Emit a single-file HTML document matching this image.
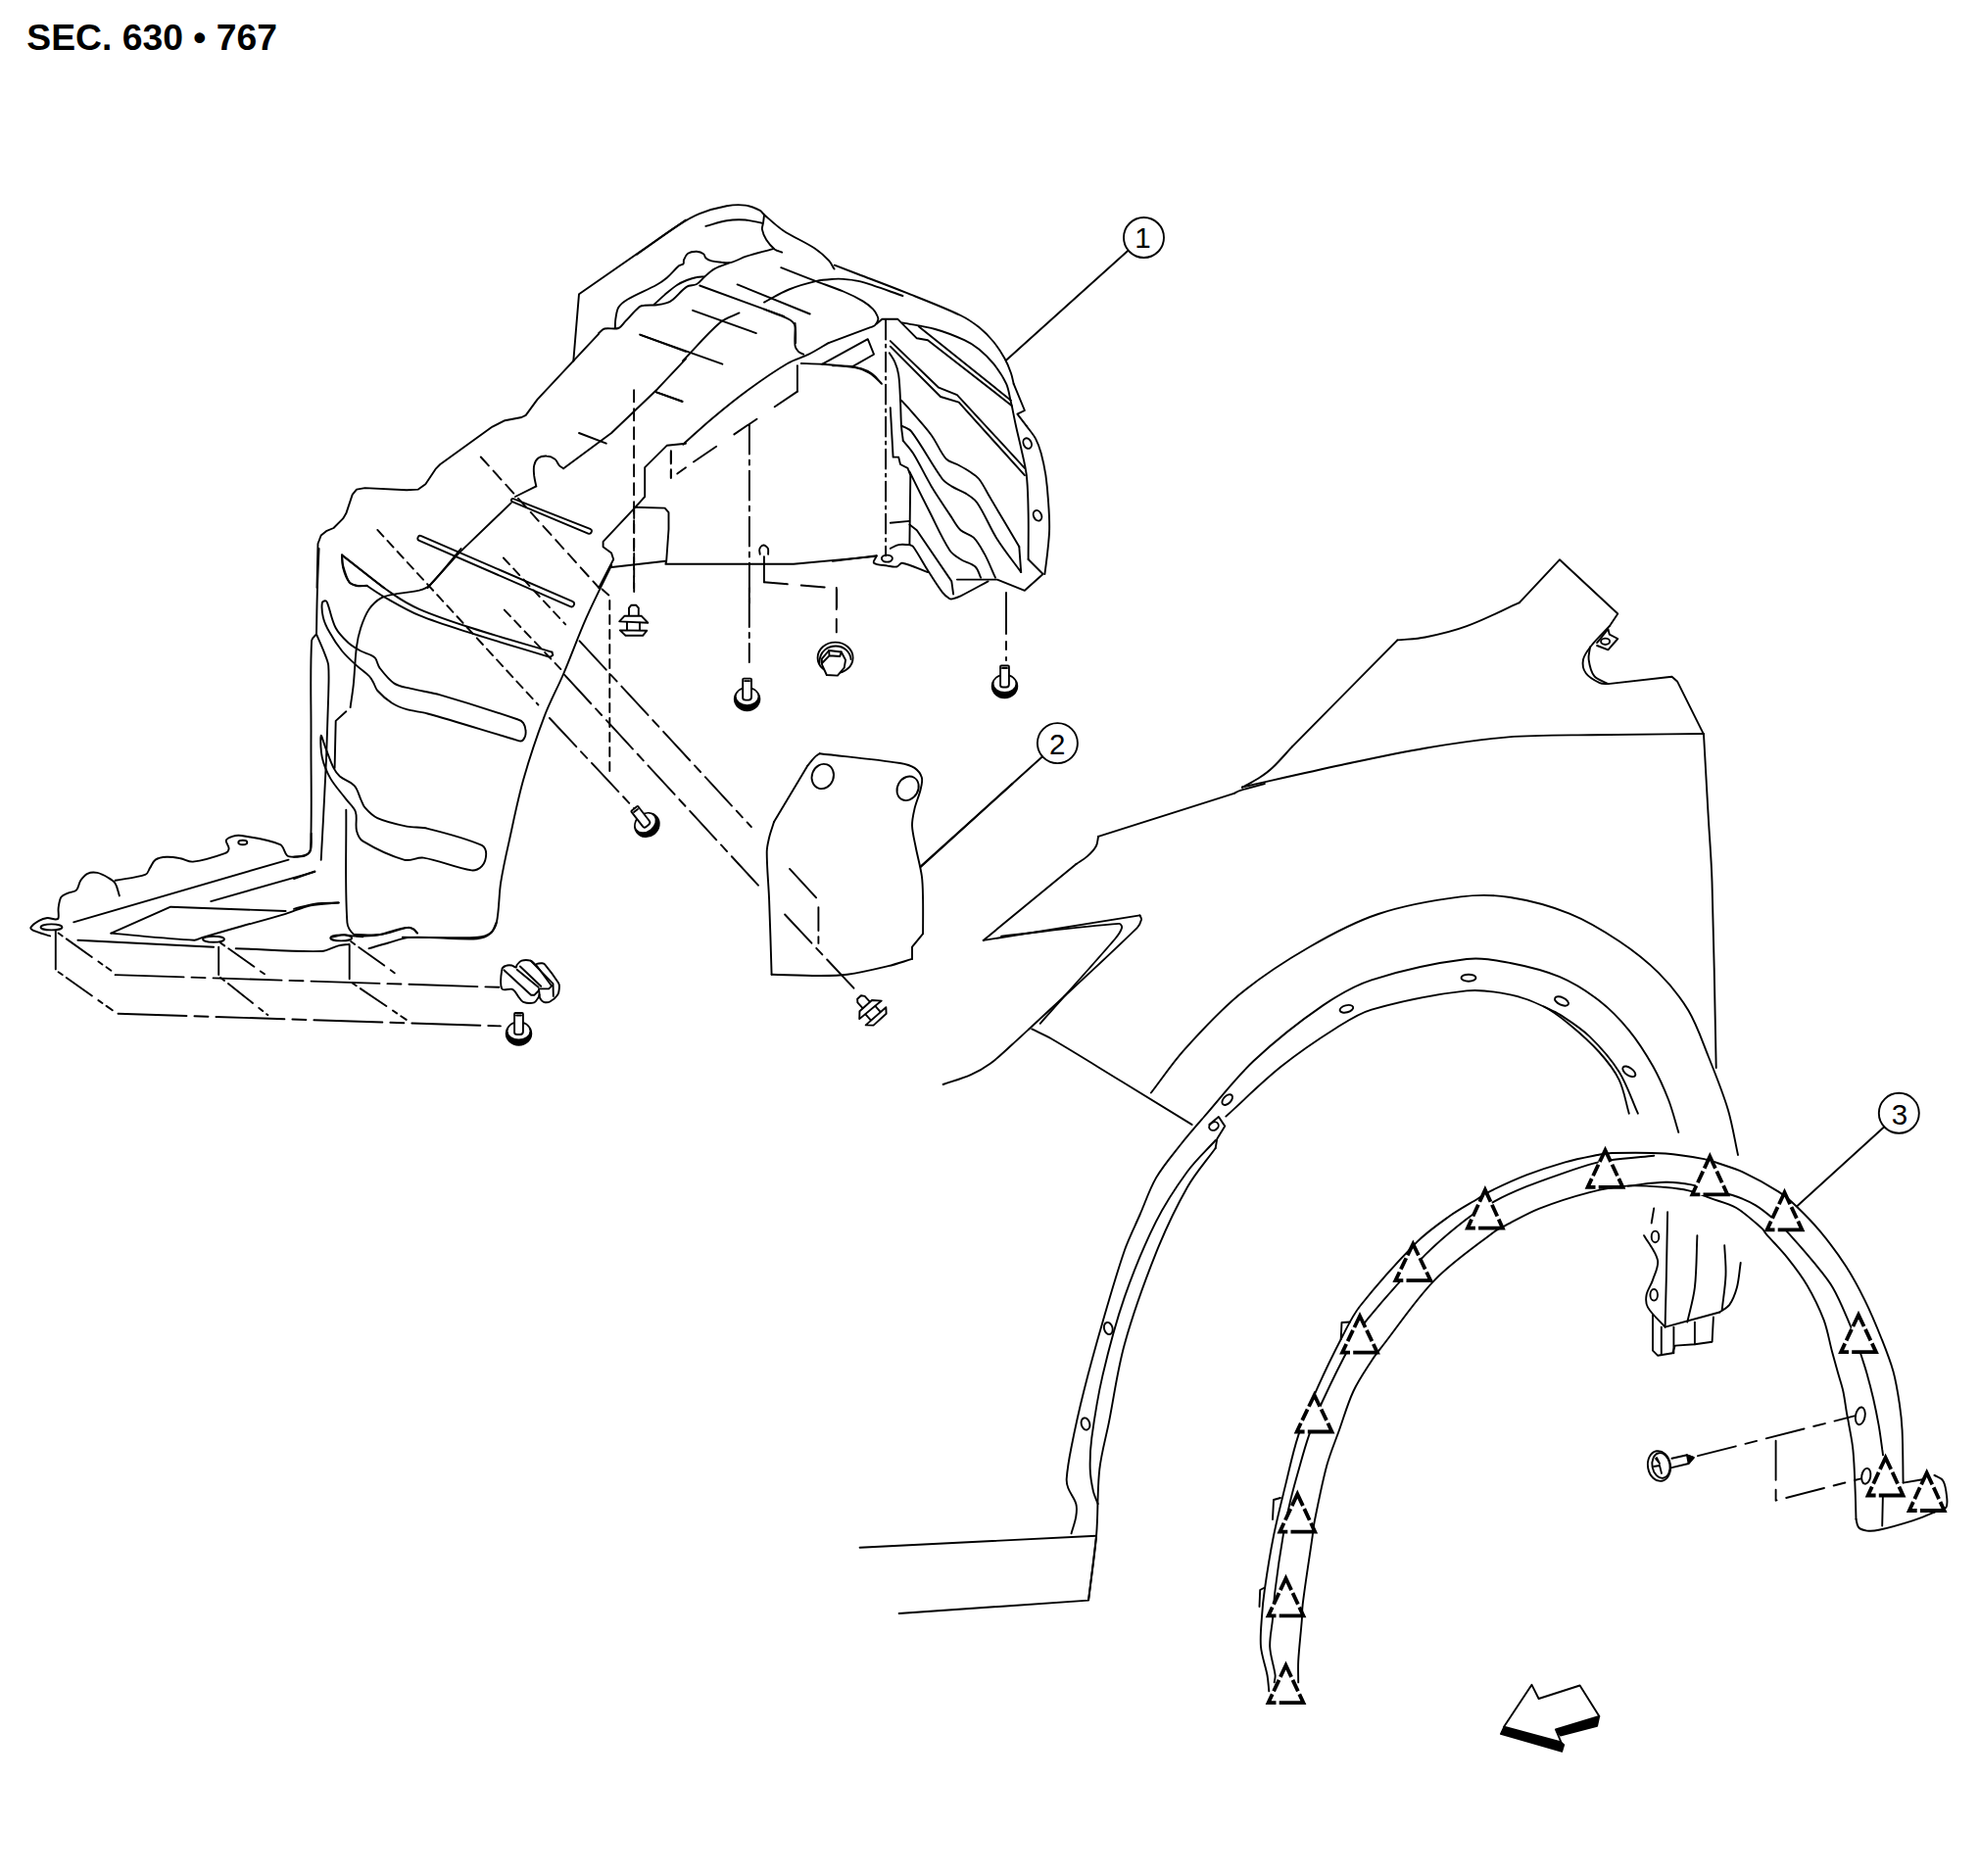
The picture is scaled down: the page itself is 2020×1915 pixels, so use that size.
<!DOCTYPE html>
<html><head><meta charset="utf-8"><style>
html,body{margin:0;padding:0;background:#fff;}
body{width:2020px;height:1915px;position:relative;overflow:hidden;}
.t{position:absolute;left:27.3px;top:17.2px;font-family:"Liberation Sans",sans-serif;font-weight:bold;font-size:37.3px;color:#000;white-space:nowrap;letter-spacing:0px;}
svg{position:absolute;left:0;top:0;}
</style></head><body>
<div class="t">SEC. 630 &#8226; 767</div>
<svg width="2020" height="1915" viewBox="0 0 2020 1915" fill="none" stroke="#000" stroke-width="1.9" stroke-linejoin="round" stroke-linecap="round">
<path d="M428.0 551.9 L582.1 619.1 A2.8 2.8 0 0 0 584.3 613.9 L430.0 547.1 A2.6 2.6 0 0 0 428.0 551.9 Z"/>
<path d="M522.9 512.2 L600.3 544.6 A2.6 2.6 0 0 0 602.3 539.8 L524.1 509.2 A1.6 1.6 0 0 0 522.9 512.2 Z"/>
<path d="M585.3 368.4 L548.4 407.9 L536.7 423.9 L532.4 426 L515.4 429.2 L502.6 435.6 L449.3 474 L445 478.3 L434.3 494.2 L426.9 499.6 L415.1 500.2 L372.5 498.1 L364 499.6 L359.7 504.9 L353.3 524.1 L350.1 529.4 L340.5 539 L333 542.2 L327.7 546.5 L324.5 555 L323.5 600"/>
<path d="M700 224.5 L591 300.2 L585.3 368.4"/>
<path d="M700 366.3 L671 397.2 L624.1 442 L575.1 478.3"/>
<path d="M575.1 478.3 C573.6 477.2 572 476.4 570.8 475.1 C569.1 473.2 568.5 470.1 566.5 468.7 C564.2 466.9 560.9 465.6 558 465.5 C555.2 465.3 551.6 466 549.5 467.6 C547.4 469.2 545.8 472.4 545.2 475.1 C544.4 478.4 544.9 482.2 545.2 485.7 C545.6 489.3 546.6 492.8 547.3 496.4"/>
<path d="M547.3 496.4 L526 507"/>
<path d="M521.7 513.4 L468.4 564.6 L436.5 600"/>
<path d="M700 452.7 L680.6 454.8 L658.2 477.2 L658.2 507 L647.5 518.8 L615.6 552.9 L615.6 558.2 L624.1 564.6 L626.2 571 L611.3 600"/>
<path d="M647.1 398.3 L647.1 600" stroke-dasharray="12 7"/>
<path d="M684.9 460.1 L684.9 487.8" stroke-dasharray="12 7"/>
<path d="M691.3 483.6 L700 477.2"/>
<path d="M653.9 341.8 L700 358.8"/>
<path d="M669.9 400.4 L696.6 410"/>
<path d="M591 442 L618.8 452.7"/>
<path d="M490.8 466.5 L611.3 600" stroke-dasharray="12 7"/>
<path d="M349 566.7 L391.7 600"/>
<path d="M349 566.7 C349.4 571 349 575.5 350.1 579.5 C351.5 584.7 353.4 590.4 356.5 594.5 C358 596.5 361.4 597.2 364 597.7 C367.4 598.3 371.1 597.7 374.6 597.7"/>
<path d="M627.8 335 C628 332 627.8 328.9 628.3 325.9 C629 321.8 629.3 317.2 631.3 313.8 C633.3 310.5 637 307.7 640.4 305.7 C650.1 300 660.9 296 670.7 290.5 C674.3 288.6 677.7 286.1 680.8 283.5 C685.2 279.7 688.7 275 693 271.3 C694.2 270.3 696.6 270.4 697.5 269.3 C698.3 268.4 697.5 266.5 698 265.3 C699 263 700.1 260 702.1 258.7 C704.5 257.1 708.2 256.6 711.2 256.7 C713.6 256.8 716.3 257.8 718.2 259.2 C719.4 260 719.2 262.3 720.3 263.2 C721.9 264.7 724.2 265.7 726.3 266.3 C729.6 267.2 733 267.5 736.4 267.8 C739.8 268 743.3 268.6 746.5 267.8 C751.7 266.5 756.5 263.4 761.7 261.7 C770.7 258.8 779.9 256.7 789 254.1"/>
<path d="M611.1 340.1 C613.1 338.5 614.8 336.1 617.2 335.5 C621.6 334.4 627.2 336.5 631.3 335 C634.3 334 636.1 330.3 638.4 327.9 C643.1 323.1 647.5 317.6 652.6 313.3 C653.9 312.2 655.9 311.9 657.6 311.8 C661.9 311.3 666.4 311.7 670.7 311.2 C674.1 310.9 677.6 310.3 680.8 309.2 C683 308.5 685.1 307.2 686.9 305.7 C691.9 301.6 695.8 295.9 701.1 292.6 C703.9 290.7 708.2 291.7 711.2 290 C714.3 288.3 716.5 284.9 719.3 282.4 C722.5 279.6 725.6 276.4 729.4 274.4 C734.1 271.7 739.5 270.3 744.5 268.3"/>
<path d="M667.7 310.7 C671.4 307.4 675 303.9 678.8 300.6 C682.8 297.3 686.7 293.9 691 291 C694.1 289 697.6 287.4 701.1 286 C704.3 284.7 707.7 283.6 711.2 283 C713.8 282.4 716.6 282.6 719.3 282.4"/>
<path d="M714.2 291.5 L800 322.9"/>
<path d="M752.6 290.4 L826.7 320.5"/>
<path d="M707.1 316.8 L771.8 340.1"/>
<path d="M585.3 368.4 L611.3 340.7"/>
<path d="M650 259.7 C664.2 249.8 678.1 239.3 692.6 229.9 C699.4 225.4 706.5 221.1 714 218.1 C722.8 214.6 732.3 211.9 741.7 210.2 C747.9 209.1 754.6 208.7 760.9 209.6 C766 210.3 771.2 212.6 775.8 214.9 C777.6 215.8 778.5 217.9 780.1 219.2 C786.4 224.6 792.4 230.6 799.3 235.2 C809.4 242 821 246.6 831.2 253.3 C836.7 256.9 841.7 261.4 846.2 266.1 C848.4 268.5 849.7 271.8 851.5 274.6"/>
<path d="M720.4 230.9 C727.5 229 734.5 226.3 741.7 225.2 C748 224.2 754.5 224.1 760.9 224.5 C766.6 224.9 772.2 226.7 777.9 227.7"/>
<path d="M780.1 219.2 C779.7 222 779.4 224.9 779 227.7 C778.7 229.9 777.5 232.1 777.9 234.1 C778.6 237.7 780.2 241.6 782.2 244.8 C784.4 248.3 787.5 251.8 790.7 254.4 C792.8 256 795.7 256.5 798.2 257.6"/>
<path d="M696.9 368.4 C709.7 355.3 721.5 340.8 735.3 329 C740.7 324.4 748.1 322.6 754.5 319.4"/>
<path d="M851.8 270.7 C859.9 273.8 868 276.9 876.1 280 C892.3 286.2 908.5 292.2 924.6 298.7 C943.4 306.2 962.4 313.4 980.6 322 C987.3 325.2 993.5 329.5 999.3 334.1 C1004.7 338.5 1009.8 343.6 1014.2 349 C1018.5 354.2 1022.1 359.9 1025.4 365.8 C1028 370.5 1030.1 375.6 1031.9 380.7 C1033.2 384.3 1033.8 388.2 1034.7 392"/>
<path d="M797.2 273.2 C809.3 278 821.4 282.8 833.6 287.4 C842.6 290.8 851.9 293.7 860.8 297.5 C867.8 300.4 874.6 303.7 881.1 307.6 C884.7 309.8 888.2 312.6 891.2 315.7 C893.1 317.7 894.6 320.3 895.7 322.8 C896.3 324 896.6 325.6 896.2 326.8 C895.7 328.6 894.5 330.5 893.2 331.9 C892.2 332.9 890.6 333.3 889.1 333.9 C874.7 339.4 860.2 344.7 845.7 350.1"/>
<path d="M780 308.6 C788.4 304.2 796.5 299 805.3 295.5 C814.4 291.8 824 289.1 833.6 286.9 C839.2 285.6 845 285.3 850.7 284.9 C854.1 284.6 857.5 284.6 860.8 284.9 C865.9 285.3 871 285.8 876 286.9 C881.1 288 886.2 289.8 891.2 291.4 C901.3 294.8 911.4 298.5 921.5 302"/>
<path d="M780 315.7 C787.7 318.7 795.7 321.4 803.2 324.8 C805.5 325.8 807.7 327.1 809.3 328.8 C810.6 330.2 811.6 332 811.8 333.9 C812.5 339.1 812 344.7 812.1 350.1"/>
<path d="M1034.7 391.9 L1045.9 419 L1038.4 422.7 L1047.8 434.9"/>
<path d="M1047.8 434.9 C1050.9 439.2 1054.6 443.2 1057.1 447.9 C1059.6 452.6 1061.3 457.7 1062.7 462.8 C1064.7 470.2 1066.2 477.7 1067.4 485.2 C1068.7 494.5 1069.5 503.9 1070.1 513.2 C1070.8 522.5 1071.3 531.9 1071.1 541.2 C1070.9 548.7 1070 556.1 1069.2 563.6 C1068.4 571.1 1067.4 578.5 1066.4 586"/>
<path d="M894.8 330.4 L900.4 325.7 L916.2 325.7 L935.8 345.3 L947 347.2 L1031.9 413.4"/>
<path d="M937.7 333.2 L1031.9 408.7"/>
<path d="M920.9 329.4 C932.1 331.6 943.5 332.9 954.5 336 C964.7 338.8 974.7 342.8 984.3 347.2 C989.6 349.6 994.7 352.8 999.3 356.5 C1004.7 360.9 1009.8 365.9 1014.2 371.4 C1019.2 377.7 1023.9 384.6 1027.2 391.9 C1029.8 397.7 1030.3 404.4 1031.9 410.6 C1032.2 411.8 1032.5 413.1 1032.8 414.3"/>
<path d="M1032.8 414.3 C1034.1 420.5 1035.2 426.8 1036.6 433 C1038.3 441.1 1040.4 449.1 1042.2 457.2 C1044.2 466.5 1046.7 475.8 1047.8 485.2 C1049.2 497.6 1049.4 510.1 1049.6 522.5 C1050 538.7 1049.6 554.9 1049.6 571"/>
<path d="M1049.6 571 L1064.6 586"/>
<path d="M976.9 591.6 L1017.9 591.6 L1045.9 602.8 L1064.6 586"/>
<path d="M904.1 326.6 L904.1 567.3" stroke-dasharray="20 5 3 5"/>
<path d="M907.8 360.2 C909.7 363.3 912 366.2 913.4 369.6 C915.2 373.7 916.5 378.2 917.2 382.6 C918.4 391.2 918.6 400 919 408.7 C919.5 417.4 919.4 426.2 920 434.9 C920.3 439.8 921.2 444.8 921.8 449.8"/>
<path d="M908.8 348.1 L958.2 395.7 L976.9 403.1 L1045.9 477.8"/>
<path d="M908.8 353.7 L960.1 405 L978.7 410.6 L1045.9 485.2"/>
<path d="M920 408.7 C923.4 412.5 926.9 416.1 930.2 419.9 C937.2 427.9 944.5 435.7 950.7 444.2 C956.3 451.8 959.6 461.5 965.7 468.4 C968.3 471.5 973.2 472.1 976.9 474 C981.3 476.4 985.8 478.7 989.9 481.5 C993.2 483.7 996.8 485.9 999.3 489 C1003.7 494.6 1006.7 501.4 1010.4 507.6 C1020.4 524.4 1030.3 541.2 1040.3 558"/>
<path d="M1040.3 558 L1042.2 584.1"/>
<path d="M920.9 434.9 C924 436.7 928.1 437.6 930.2 440.4 C941.7 455.6 950.6 473.5 961.9 489 C964.3 492.1 967.9 494.3 971.3 496.4 C976 499.3 981.5 500.9 986.2 503.9 C990.3 506.5 994.7 509.2 997.4 513.2 C1005.3 524.8 1010.3 538.5 1017.9 550.5 C1025.3 562.2 1034.1 572.9 1042.2 584.1"/>
<path d="M921.8 449.8 C925.2 454.1 929.2 458.1 932.1 462.8 C938.8 473.7 944.2 485.4 950.7 496.4 C957.2 507.2 964.3 517.7 971.3 528.1 C974.2 532.6 976.7 537.7 980.6 541.2 C984.2 544.5 990.2 545.2 993.7 548.7 C998.3 553.3 1001.6 559.6 1004.9 565.4 C1009.1 573.2 1012.3 581.6 1016 589.7"/>
<path d="M928.4 481.5 C935.2 495.2 941.9 508.9 948.9 522.5 C955.6 535.7 961.5 549.6 969.4 561.7 C972 565.7 976.5 568.4 980.6 571 C985.2 574 991.6 575 995.5 578.5 C998.5 581.2 999.3 586 1001.1 589.7"/>
<path d="M928.4 535.6 L935.8 541.2 L971.3 593.4 L973.1 606.5"/>
<path d="M928.4 556.1 C929.6 556.7 931.3 556.9 932.1 558 C937.5 565.6 941.9 574.2 947 582.2 C951.8 589.8 956.5 597.6 961.9 604.6 C963.9 607.2 966.7 609.6 969.4 611.2 C970.4 611.8 971.9 611.5 973.1 611.2 C975.7 610.5 978.2 609.5 980.6 608.4 C990 603.6 999.3 598.4 1008.6 593.4"/>
<path d="M908.8 416.2 L911.6 466.6 L917.2 466.6 L919 474 L926.5 477.8 L929.3 485.2 L928.4 556.1"/>
<path d="M908.8 533.7 L928.4 531.9"/>
<path d="M908.8 559.9 C911.6 558.6 914.2 556.7 917.2 556.1 C920.8 555.4 924.6 556.1 928.4 556.1"/>
<path d="M850 572.9 L894.8 567.3"/>
<path d="M894.8 567.3 C893.8 569.8 890.6 573.6 892 574.8 C894.4 577 901.3 576.8 906 577.6 C909.1 578.1 912.4 579.1 915.3 578.5 C917.4 578.1 918.8 574.4 920.9 574.8 C929.4 576.3 938.3 581 947 584.1"/>
<path d="M1027 605 L1027 674" stroke-dasharray="42 8 8 8"/>
<path d="M850 373.3 C856.8 373.6 863.9 372.9 870.5 374.2 C876.3 375.4 882.2 377.8 887.3 380.7 C891.8 383.4 895.4 387.6 899.4 391"/>
<path d="M697.2 453.7 C707 444.9 716.5 435.8 726.6 427.4 C738.7 417.3 750.9 407.3 763.7 398 C776.7 388.5 790 379.1 803.9 371 C810.6 367 818.5 365.2 825.5 361.7 C832.4 358.2 838.9 354 845.6 350.1"/>
<path d="M653.1 341.6 L737.4 371.7"/>
<path d="M670.1 400.3 L696.4 409.6"/>
<path d="M811.6 330 C811.6 331.5 811.6 333.1 811.6 334.6 C811.6 340.8 810.8 347.2 811.6 353.2 C811.8 355.2 813.3 357.2 814.7 358.6 C816.1 360 818.3 360.7 820.1 361.7"/>
<path d="M839.4 371.7 L885.8 346.2 L892 361.7 L870.3 374.1"/>
<path d="M817.8 371 C825 371.2 832.2 371.3 839.4 371.7 C847.7 372.3 855.9 373.1 864.1 374.1 C869.3 374.7 874.7 374.9 879.6 376.4 C883.4 377.5 887.3 379.4 890.4 381.8 C894.1 384.5 896.8 388.5 900 391.8"/>
<path d="M813.9 373.3 L813.9 399.6"/>
<path d="M813.9 399.6 L691 483" stroke-dasharray="28 22"/>
<path d="M684.8 461.4 L684.8 487.7" stroke-dasharray="12 7"/>
<path d="M764.9 433.6 L764.9 620" stroke-dasharray="30 6 5 6"/>
<path d="M647 517.8 L678.6 518.6 L682.5 523.2 L682.5 540.2 L680.2 572.7 L679.4 575.8 L810 575.8 L892 568.1"/>
<path d="M624.4 579 L679.4 572.7"/>
<path d="M775.7 565.7 C775.6 563.9 774.7 561.9 775.3 560.3 C775.8 558.8 777.7 556.6 779.1 556.5 C780.6 556.3 783 558.1 783.8 559.6 C784.6 561.2 784 563.7 784.1 565.7"/>
<path d="M779.9 568.1 L779.9 594.3"/>
<path d="M779.9 594.3 L854.1 600.5 L854.1 620" stroke-dasharray="24 14"/>
<path d="M325.6 560 C325 574.2 324.3 588.4 323.9 602.7 C323.4 617.6 323.3 632.5 323 647.4"/>
<path d="M323 647.4 C326 654.5 329.3 661.6 332 668.8 C333.3 672.2 334.9 675.8 335.2 679.4 C336 689.3 335.4 699.3 335.2 709.3 C334.7 730.6 333.9 751.9 333.1 773.3 C332.2 794.6 330.9 815.9 329.9 837.2 C329.2 850.8 328.4 864.3 327.7 877.8"/>
<path d="M323 647.4 C321.4 649.6 318.3 651.2 318.1 653.8 C316.4 686 317.7 719.2 317.5 751.9 C317.3 789.6 318.5 827.6 317.1 865 C317 867.8 315.1 871.2 312.8 872.4 C309.4 874.4 304.3 873.9 300 874.6"/>
<path d="M470.6 560 C459.9 572.4 450.1 585.9 438.6 597.3 C435.8 600.1 431.8 601.6 428 602.7 C421.1 604.5 413.7 604.5 406.6 605.9 C400.9 607 394.6 607.4 389.6 610.1 C384.6 612.8 380 617.2 376.8 621.8 C372.9 627.5 370.4 634.4 368.2 641 C366.2 647.2 364.8 653.7 364 660.2 C362.3 672.9 362.1 685.9 360.8 698.6 C360 706.5 358.6 714.3 357.6 722.1"/>
<path d="M353.3 726.3 L342.7 735.9 L341.6 783.9"/>
<path d="M353.3 826.6 C353.7 865 351.9 904 354.4 941.7 C354.7 946.6 358.5 951.5 361.8 954.5 C363.8 956.3 367.5 955.7 370.4 956.2"/>
<path d="M624.2 577.1 C615.6 594.8 606.5 612.4 598.6 630.4 C590.2 649.3 583.2 668.9 575.1 688 C569 702.3 561.4 716.1 555.9 730.6 C547.9 751.6 540.7 773 534.6 794.6 C528.6 815.6 524.4 837.2 519.7 858.6 C516.5 872.7 513.3 886.9 511.1 901.2 C509.1 914.6 509.6 928.7 506.9 941.7 C506 945.7 503.5 950 500.5 952.4 C497.1 955 492.1 956.3 487.7 956.7 C475 957.8 462.1 957.1 449.3 957.1 C436.5 957.1 423.7 956.8 410.9 956.7"/>
<path d="M328.8 615.4 C328.2 620 328.7 625.6 329.9 630.4 C331.2 635.6 333.6 640.6 336.3 645.3 C340 652 344.2 658.6 349.1 664.5 C353.5 669.9 358.8 674.7 364 679.4 C368.1 683.2 372.9 686.2 376.8 690.1 C378.6 691.9 379.8 694.3 381 696.5 C382.6 699.2 383.2 702.7 385.3 705 C389.6 709.8 394.8 714.3 400.2 717.8 C404.7 720.7 410 722.7 415.2 724.2 C422.1 726.2 429.5 726.5 436.5 728.5 C466.5 736.8 496.2 746.4 526.1 755.1 C528.1 755.7 530.7 757 532.5 756.4 C534 755.9 535.2 753.6 535.9 751.9 C536.6 750 536.8 747.6 536.5 745.5 C536.2 743 535.6 740.1 534.2 738.1 C533 736.4 530.9 735.1 528.8 734.5 C502.6 725.5 476 717 449.3 709.3 C439.5 706.5 429.3 705.4 419.4 702.9 C413.7 701.4 407.2 700.8 402.4 697.6 C396.5 693.6 391.8 687.3 387.4 681.6 C385.4 678.8 385.1 674.8 383.2 672 C382.2 670.5 380.5 669.6 378.9 668.8 C375.5 667.1 371.6 666.3 368.2 664.5 C363.8 662.1 359.2 659.4 355.4 656 C350.7 651.6 345.7 646.7 342.7 641 C338.5 633.2 337.3 623.8 334.1 615.4 C333.8 614.5 332.8 613.3 332 613.3 C331 613.3 328.9 614.3 328.8 615.4Z"/>
<path d="M327.7 750.9 C327 753.2 327.2 766.1 328.8 773.3 C330.4 780.6 333.5 788 337.3 794.6 C341.7 802.2 348 808.8 353.3 815.9 C356.5 820.2 361.3 823.9 362.9 828.7 C364.9 834.5 362.5 841.9 364 847.9 C365 851.8 366.9 856.5 370.4 858.6 C383.3 866.4 398.4 873.7 413 877.8 C419.1 879.4 425.9 874.7 432.2 875.6 C448.7 878.2 465 886.1 481.3 888.4 C485 889 489.7 886.8 491.9 884.2 C494.6 881.1 496.2 875.5 496.2 871.4 C496.2 868.4 494.7 864 491.9 862.8 C474.8 855.5 455.2 850.4 436.5 845.8 C429.6 844 422.1 845.1 415.2 843.6 C405.1 841.5 394.6 839.3 385.3 835.1 C380.3 832.9 376.1 828.5 372.5 824.4 C370.4 822.1 369.6 818.8 368.2 815.9 C366.1 811.3 365.1 805.7 361.8 802.1 C358 797.9 351.4 796.2 346.9 792.5 C344.3 790.2 342.1 787.1 340.5 783.9 C337.1 777.1 334.8 769.7 332 762.6 C330.5 758.7 328.1 749.6 327.7 750.9Z"/>
<path d="M300 897 L321.3 889.5"/>
<path d="M300 927.9 C307.1 926.1 314.1 923.6 321.3 922.6 C329.4 921.4 337.7 921.8 345.9 921.5"/>
<path d="M338.4 956.7 C342.7 955.8 346.9 954.3 351.2 954.1 C354.7 954 358.3 955.6 361.8 955.6 C369.6 955.7 377.6 955.8 385.3 954.5 C394.7 953 403.7 948.7 413 947.1 C415.8 946.6 419.1 947.1 421.6 948.1 C423.3 948.9 424.4 951 425.8 952.4"/>
<path d="M349.1 566.4 C349.4 570 349.2 573.6 350.1 577.1 C351.7 582.9 353.4 589.4 356.5 594.1 C358 596.3 361.3 597.4 364 598 C367.4 598.7 371.1 598 374.6 598"/>
<path d="M385.3 540.9 L549.4 719.5" stroke-dasharray="9 6"/>
<path d="M560.9 733 L647.2 825.1" stroke-dasharray="40 7 9 7"/>
<path d="M513.9 569.5 L577.2 637.4" stroke-dasharray="9 6"/>
<path d="M591.6 654.3 L766.9 844.1" stroke-dasharray="40 7 9 7"/>
<path d="M514.8 622.6 L572.4 683.1" stroke-dasharray="9 6"/>
<path d="M576.2 688.8 L777.7 907.8" stroke-dasharray="40 7 9 7"/>
<path d="M614.6 601.5 L622.3 608.3 L622.3 792.4" stroke-dasharray="9 6"/>
<path d="M647.2 520 L647.2 609.2" stroke-dasharray="9 6"/>
<path d="M349.1 566.4 C366.1 579.5 382.6 593.5 400.2 605.9 C408.9 612 418.2 617.6 428 621.8 C445.2 629.3 463.3 635.2 481.3 641 C508.4 649.8 536 657.4 563.4 665.6"/>
<path d="M563.4 665.6 L564.4 668.8 L561.2 670.9"/>
<path d="M561.2 670.9 C534.6 662.7 507.8 654.9 481.3 646.4 C463.4 640.7 445.2 635.4 428 628.2 C415.4 623 403.6 615.8 391.7 609.1 C385.8 605.7 380.3 601.7 374.6 598"/>
<path d="M51.1 955.4 C45.5 953.6 39.5 952.1 34.1 949.8 C32.9 949.3 30.8 947.8 31.3 946.9 C32.7 944.5 36.7 941.7 39.8 939.9 C42.3 938.4 45.4 937.3 48.3 937 C51.1 936.8 54 938.5 56.8 938.5 C57.8 938.5 59.4 938 59.6 937 C60.3 934.2 59.2 930.4 59.6 927.1 C60.1 923.3 60.5 918.9 62.4 915.8 C63.8 913.7 67 912.7 69.5 911.6 C72.2 910.4 76.1 910.7 78 908.7 C80.3 906.4 80.3 901.8 82.3 898.8 C84.1 896.1 86.5 893.1 89.3 891.8 C92.1 890.5 96.1 890.3 99.2 890.9 C103.2 891.7 107 893.9 110.5 896 C113.1 897.5 116.1 899.2 117.6 901.7 C119.9 905.3 120.5 910.2 121.9 914.4"/>
<path d="M117.6 898.8 C128 896.8 139.3 896 148.7 892.6 C151.1 891.8 151.6 888.3 153 886.1 C154.9 883.3 156 879.4 158.7 877.6 C161.7 875.6 166.1 875 170 874.8 C174.6 874.5 179.5 875.4 184.1 876.2 C188.4 877 192.6 880.1 196.9 879.6 C207.7 878.4 219.1 874.8 229.4 871.1 C231.4 870.4 233.4 868.2 233.6 866.3 C233.9 863.7 230.1 860 230.8 857.8 C231.5 855.8 235.3 854.4 237.9 853.6 C240.5 852.8 243.6 852.5 246.4 853 C259.6 855.3 274.3 856.9 286 862.1 C289.8 863.7 290 870.6 293.1 873.4 C294.7 874.9 297.8 874.8 300.1 874.8 C303.9 874.8 308.1 874.8 311.5 873.4 C313.8 872.4 316.4 870.1 317.1 867.7 C318.5 862.6 317.5 856.4 317.7 850.7"/>
<path d="M75.2 941.3 L294.5 877.6"/>
<path d="M215.2 920.1 L321.4 889.8"/>
<path d="M113.4 952.6 L174.2 925.7 L291.6 930"/>
<path d="M113.4 952.6 C141.7 955 170.1 958.4 198.3 959.7 C201.2 959.8 203.9 957.7 206.8 956.9 C219.9 953 233.2 949.3 246.4 945.5 C261.5 941.3 276.6 937.3 291.6 932.8 C300.2 930.2 308.4 926.1 317.1 924.3 C326.3 922.4 336 922.4 345.4 921.5"/>
<path d="M79.4 959.7 L218.1 966.8"/>
<path d="M240.7 968.2 C270 969.1 299.4 971.8 328.4 971 C334.3 970.8 339.6 966.8 345.4 965.3 C349.1 964.4 353 964.4 356.7 963.9"/>
<path d="M362.4 954 C370.9 954 379.5 955.1 387.9 954 C397.4 952.8 406.7 948.5 416.2 946.9 C418 946.6 420.2 947.4 421.8 948.4 C423.5 949.3 424.6 951.2 426.1 952.6"/>
<path d="M376.5 968.2 C383.1 966.3 389.7 964.3 396.3 962.5 C403.9 960.5 411.3 957.2 419 956.9 C441.4 955.8 464.6 959.4 486.9 958.3 C491.9 958 497.4 955.7 501 952.6 C504 950 504.8 945.1 506.7 941.3"/>
<path d="M56.8 949.8 L56.8 989.4"/>
<path d="M223.2 966.8 L223.2 995.1"/>
<path d="M356.7 965.3 L356.7 999.3"/>
<path d="M59.6 952.6 L113.4 990.8" stroke-dasharray="5 5 32 8"/>
<path d="M59.6 992.2 L114.8 1031.3" stroke-dasharray="5 5 32 8"/>
<path d="M225.1 962.5 L271.8 995.6" stroke-dasharray="5 5 32 8"/>
<path d="M225.1 997.9 L273.3 1036.1" stroke-dasharray="5 5 32 8"/>
<path d="M358.1 961.1 L406.2 995.6" stroke-dasharray="5 5 32 8"/>
<path d="M359.6 1003.5 L414.7 1040.9" stroke-dasharray="5 5 32 8"/>
<path d="M117.6 995.1 L509.5 1007.8" stroke-dasharray="70 8 14 8"/>
<path d="M120.5 1034.7 L510.9 1047.4" stroke-dasharray="70 8 14 8"/>
<path d="M1267.9 803.9 C1273.6 800.7 1279.5 797.8 1284.9 794.3 C1289.8 791.1 1294.7 787.6 1299 783.5 C1306.1 776.9 1312.2 769.4 1318.8 762.3"/>
<path d="M1318.8 762.3 L1426.4 653.4"/>
<path d="M1426.4 653.4 C1435.8 652.4 1445.4 652.4 1454.7 650.5 C1469 647.7 1483.4 644.3 1497.1 639.2 C1515.5 632.5 1533 623.2 1550.9 615.2"/>
<path d="M1550.9 615.2 L1591.9 571.3 L1651.3 626.5 L1642.8 639.2"/>
<path d="M1642.8 639.2 C1636.7 645.8 1630 652 1624.4 659 C1621.1 663.3 1617 668.2 1616 673.2 C1615.1 677.6 1616.2 683.7 1618.8 687.3 C1621.9 691.7 1627.9 694.8 1632.9 697.2 C1635.4 698.4 1638.6 697.8 1641.4 698.1"/>
<path d="M1641.4 698.1 L1706.5 690.7 L1712.2 695.8 L1739 749.6"/>
<path d="M1739 749.6 C1740.5 776.4 1742 803.2 1743.5 830 C1744.8 853.3 1746.8 876.6 1747.5 900 C1749.5 963.3 1750.3 1026.7 1751.7 1090"/>
<path d="M1623 660.5 C1622.6 664.7 1621 669.1 1621.6 673.2 C1622.4 679 1623.8 685.8 1627.3 690.2 C1630.4 694.1 1636.7 695.4 1641.4 698.1"/>
<path d="M1630.1 656.2 L1641.4 642.1 L1642.8 647.7 L1651.3 652 L1641.4 663.3 L1630.1 659"/>
<path d="M1267.9 803.4 C1301.9 795.8 1335.8 787.9 1369.8 780.7 C1398 774.7 1426.2 768.5 1454.7 763.7 C1482.8 759 1511.1 754.7 1539.6 752.4 C1567.7 750.2 1596.1 750.6 1624.4 750.2 C1662.6 749.5 1700.8 749.4 1739 749"/>
<path d="M940 884.9 L1033.4 800"/>
<path d="M1290.9 800 C1282.4 802.4 1273.8 804.4 1265.4 807.1 C1263.4 807.7 1261.6 809 1259.8 809.9"/>
<path d="M1259.8 809.9 L1121.1 853.8"/>
<path d="M1121.1 853.8 C1120.3 857.1 1120.4 860.8 1118.8 863.7 C1116.7 867.6 1113.2 871.1 1109.8 874.1 C1106.4 877.2 1102.2 879.4 1098.5 882.1"/>
<path d="M1098.5 882.1 L1003.7 959.9"/>
<path d="M1003.7 959.9 L1163.5 934.4"/>
<path d="M1163.5 934.4 C1164 935.8 1165.3 937.3 1165 938.7 C1164.3 941.5 1163 944.9 1160.7 947.1 C1124.8 982.2 1087.1 1016 1050.4 1050.4"/>
<path d="M1050.4 1050.4 C1044.7 1055.6 1039.1 1060.9 1033.4 1066 C1025.9 1072.7 1018.8 1079.9 1010.7 1085.8 C1004.6 1090.3 997.9 1094.1 990.9 1097.1 C981.8 1101.1 972.1 1103.7 962.6 1107"/>
<path d="M1022.1 955.6 C1062.1 951.4 1103 945.6 1142.3 942.9 C1144 942.8 1145.5 945.7 1145.1 947.1 C1144.1 950.9 1141 955.1 1138.1 958.5 C1113.1 987.6 1087.1 1016 1061.7 1044.8"/>
<path d="M1053.2 1050.4 C1059.8 1053.7 1066.6 1056.6 1073 1060.3 C1097.2 1074.4 1121 1089.4 1145 1104 C1168.9 1118.6 1192.8 1133.3 1216.7 1148"/>
<path d="M1174.9 1115.5 C1186.2 1100.9 1196.5 1085.3 1208.8 1071.6 C1226.6 1051.8 1244.9 1031.9 1265.4 1015 C1287.3 997 1311.4 981.2 1336 967 C1358.6 953.9 1382.2 941.2 1406.9 933 C1433.9 924 1462.7 919 1491 915.4 C1507.6 913.3 1525 913.4 1541.5 916 C1562 919.2 1582.7 924.8 1602 932.6 C1619.8 939.8 1636.7 950.1 1652.7 960.8 C1667 970.3 1680.9 981.1 1693 993.2 C1704.5 1004.7 1715.1 1017.7 1723.4 1031.6 C1732 1046 1737.3 1062.3 1743.6 1078 C1750.8 1096 1758.2 1114.1 1763.8 1132.7 C1768.3 1147.8 1770.6 1163.6 1774 1179"/>
<path d="M1093.5 1565.4 C1095.1 1559.5 1097.4 1553.8 1098.3 1547.8 C1099 1543.6 1099.4 1539 1098.3 1535 C1096.7 1529.4 1092.4 1524.5 1090.3 1519 C1089.2 1516 1088.5 1512.7 1088.7 1509.5 C1089.5 1498.8 1091.4 1488.1 1093.5 1477.5 C1097.3 1458.2 1101.5 1439 1106.3 1420 C1112.2 1396.4 1118.7 1372.9 1125.5 1349.5 C1132.6 1324.9 1139.6 1300.2 1148 1276 C1152.3 1263.7 1158.3 1252 1163.5 1240 C1169 1227.4 1173.2 1214.2 1180 1202.4 C1187.1 1190.2 1196.6 1179.2 1205.4 1168 C1212.9 1158.4 1221 1149.2 1229 1140 C1245.7 1120.9 1261.1 1100.3 1279.6 1083 C1301.6 1062.4 1325.5 1043.4 1350.3 1026.4 C1365.7 1015.9 1382.3 1006 1400 1000.3 C1431.2 990.2 1464.5 983 1497 979 C1511.6 977.2 1526.9 980.2 1541.5 983 C1558.6 986.3 1576 990.4 1592 997.2 C1606.3 1003.3 1620 1012 1632.4 1021.5 C1643.6 1030.2 1653.8 1040.8 1662.8 1051.8 C1672 1063 1679.8 1075.4 1687 1088 C1693.2 1099 1698.4 1110.7 1703 1122.5 C1707.2 1133.3 1709.9 1144.8 1713.3 1155.9"/>
<path d="M1251.3 1139.6 C1270.2 1122.6 1288.1 1104.4 1307.9 1088.6 C1325.8 1074.2 1345 1061.2 1364.4 1049 C1375.7 1041.9 1387.3 1034.2 1400 1030.6 C1431.5 1021.7 1464.5 1014.9 1497 1011.4 C1511.7 1009.8 1527 1012.4 1541.5 1015.4 C1553.3 1017.8 1565.1 1022.1 1575.8 1027.5 C1585.2 1032.2 1593.8 1039 1602 1045.7 C1612.7 1054.5 1623.2 1063.7 1632.4 1074 C1640.1 1082.6 1647.7 1092 1652.7 1102.3 C1657.8 1112.9 1659.4 1125.2 1662.8 1136.7"/>
<path d="M1575.8 1027.5 C1581.2 1030.2 1587 1032.4 1592 1035.6 C1602.5 1042.5 1613.4 1049.2 1622.3 1057.9 C1633.6 1068.8 1644.3 1081 1652.7 1094.2 C1660.8 1107.3 1665.5 1122.5 1671.9 1136.7"/>
<path d="M512.3 989.7 C511.3 995.9 510 1005 512.3 1009.4 C513.4 1011.7 519.2 1009.1 522.4 1009.7 C523.6 1010 524.7 1011.1 525.6 1012.1 C526.8 1013.5 527.6 1015.4 528.8 1016.9 C530.4 1019 531.8 1021.9 534.1 1022.8 C537.3 1024 542.1 1024.3 545.3 1023.3 C547.3 1022.7 548.3 1019.9 549.6 1018 C550.1 1017.2 550.4 1015.2 550.6 1015.3 C550.9 1015.5 550.6 1018 551.2 1019 C552 1020.5 553.4 1022.3 554.9 1022.8 C556.8 1023.4 559.5 1023.4 561.3 1022.5 C564.3 1020.9 567.5 1018.2 569.3 1015.3 C570.7 1013.1 570.8 1010 570.9 1007.3 C571 1005.9 570.6 1004.3 569.8 1003 C565.6 996.6 560.9 990.2 556 984.4 C555.4 983.7 554.2 983.4 553.3 983.3 C551.6 983.2 549.6 983.4 548 983.9 C547.5 984 547.3 985.1 546.9 984.9 C545.2 984.1 543.6 981.3 541.6 980.7 C538.8 979.9 535.2 979.8 532.5 980.7 C530.6 981.3 529.1 983.3 527.7 984.9 C527.1 985.6 527.3 987.5 526.7 987.6 C525.5 987.7 523.9 985.7 522.4 985.5 C520.3 985.2 517.8 985.2 516 986 C514.5 986.6 512.5 988.1 512.3 989.7Z"/>
<path d="M514.4 990.3 L542.1 1015.8 L545.3 1015.8 L550.1 1011"/>
<path d="M527.7 989.7 L549.6 1007.8"/>
<path d="M530.9 986.5 L552.2 1006.8"/>
<path d="M541.6 980.7 L564.5 1004.1 L564.8 1016.9"/>
<path d="M548 986 L562.9 1006.2"/>
<path d="M550.1 1009.4 L560.2 1009.4 L563.4 1006.2"/>
<path d="M550.1 1010.5 L550.6 1015.3"/>
<path d="M836.6 769.2 C864 772.5 891.6 774.9 918.8 779 C923.9 779.8 929.4 781.2 933.5 783.9 C936.7 786.1 939.8 790.1 940.9 793.7 C941.9 797.4 940.5 802 939.6 806 C938.1 812.6 935 819 933.5 825.6 C932.2 831.2 930.9 837.1 931 842.8 C931.3 850.1 933.3 857.5 934.7 864.8 C936.6 874.7 939.5 884.4 940.9 894.3 C942 902.3 941.9 910.6 942.1 918.8 C942.3 930.2 942.1 941.7 942.1 953.1"/>
<path d="M942.1 953.1 L931 966.6 L931 978.9"/>
<path d="M931 978.9 C922.9 981.3 914.8 984.2 906.5 986.2 C892.7 989.5 878.8 992.9 864.8 994.8 C855.1 996.1 845.2 996 835.4 996 C819.5 996 803.5 995.2 787.6 994.8"/>
<path d="M787.6 994.8 C786.8 969.5 786.1 944.1 785.1 918.8 C784.5 902.4 782.7 886 782.7 869.7 C782.7 864.8 784 859.9 785.1 855 C786.4 849.6 788.4 844.4 790 839.1"/>
<path d="M790 839.1 L824.4 781.5"/>
<path d="M824.4 781.5 C826.8 778.6 829.1 775.5 831.7 772.9 C833.2 771.4 835 770.4 836.6 769.2"/>
<path d="M806 886.9 L835.4 918.8" stroke-dasharray="40 7 9 7"/>
<path d="M835.4 926.1 L835.4 962.9" stroke-dasharray="24 6"/>
<path d="M801.1 933.5 L872.2 1009.5" stroke-dasharray="40 7 9 7"/>
<path d="M764.8 600 L764.8 676" stroke-dasharray="40 6 5 6"/>
<path d="M853.8 600 L853.8 645.4" stroke-dasharray="22 10"/>
<path d="M1027 367.7 L1151.2 256"/>
<path d="M939.6 884.5 L1063.8 772.5"/>
<path d="M1834.8 1230.8 L1923 1150.5"/>
<path d="M1240.7 1164 C1231.1 1174.6 1220.3 1184.4 1211.9 1196 C1200.1 1212.2 1188.9 1229.2 1179.9 1247.2 C1167.5 1271.9 1157 1297.8 1147.9 1323.9 C1138.9 1350 1131.8 1377 1125.5 1403.9 C1120.6 1425 1117.2 1446.5 1114.3 1467.9 C1112.9 1478.4 1112.4 1489.2 1112.7 1499.9 C1112.9 1507.4 1114.3 1515 1115.9 1522.3 C1116.9 1526.7 1119.1 1530.8 1120.7 1535.1"/>
<path d="M1240.7 1172 C1231.1 1185.3 1220 1197.7 1211.9 1212 C1199.7 1233.5 1189.1 1256.2 1179.9 1279.1 C1167.8 1309.5 1156.6 1340.5 1147.9 1371.9 C1140.6 1398 1137.2 1425.2 1131.9 1451.9 C1128.7 1467.9 1124.1 1483.7 1122.3 1499.9 C1119.8 1522.1 1121 1544.7 1119.1 1567.1 C1117.3 1589 1113.8 1610.8 1111.1 1632.6"/>
<path d="M1234.3 1148 L1243.9 1140 L1250.3 1149.6 L1242.3 1162.4 L1240.7 1172"/>
<path d="M877.6 1579.8 L1119.1 1567.7"/>
<path d="M917.6 1647 L1111.1 1633.6 L1119.1 1567.7"/>
<path d="M1295.3 1726.4 C1294.7 1720.9 1294.5 1715.4 1293.5 1710 C1291.7 1700.3 1287.9 1690.8 1287 1681 C1286.1 1670.9 1287.3 1660.5 1288 1650.3 C1288.6 1641.2 1289.5 1632 1290.8 1623 C1293.4 1604.9 1296.2 1586.7 1299.8 1568.8 C1303.4 1550.5 1308.1 1532.5 1312.5 1514.4 C1316.5 1498 1319.9 1481.4 1325.2 1465.4 C1330.7 1448.8 1337.7 1432.7 1344.8 1416.7 C1352.7 1398.9 1361.3 1381.3 1370.3 1364 C1375.7 1353.6 1380.7 1342.7 1388 1333.5 C1406.3 1310.4 1426.2 1288.1 1447 1267.2 C1456.7 1257.5 1468.2 1249.5 1479.4 1241.5 C1488.6 1235 1498.6 1229.6 1508.3 1223.7 C1512.6 1221 1516.8 1218 1521.4 1215.8 C1533.5 1209.9 1545.7 1204.2 1558.2 1199.4 C1571.1 1194.4 1584.3 1190.1 1597.6 1186.3 C1608.4 1183.3 1619.5 1181.2 1630.5 1179 C1635.3 1178.1 1640.1 1177.1 1645 1177 C1663.3 1176.6 1681.7 1176.3 1700 1177.5 C1713.2 1178.4 1726.4 1180.7 1739.4 1183.1 C1743.9 1183.9 1748.2 1185.6 1752.5 1187 C1761.3 1190 1770.4 1192.4 1778.8 1196.3 C1791.4 1202.2 1803.9 1209.1 1815.6 1216.6 C1822.3 1220.9 1828.3 1226.2 1834 1231.7 C1842.3 1239.6 1850.3 1247.9 1857.6 1256.7 C1867 1268 1876 1279.9 1884 1292.2 C1891.3 1303.5 1897.7 1315.5 1903.6 1327.6 C1909.9 1340.4 1915.4 1353.7 1920.7 1367 C1925 1377.8 1929.4 1388.8 1932.5 1400 C1935.5 1410.9 1937.2 1422.1 1938.9 1433.3 C1940.2 1442.1 1941.2 1451.1 1941.6 1460 C1942.4 1477.8 1942.3 1495.7 1942.6 1513.6"/>
<path d="M1942.6 1513.6 L1962.4 1510.2"/>
<path d="M1300.7 1717.4 C1301 1714.9 1301.9 1712.4 1301.6 1710 C1300.4 1700.3 1296.6 1690.7 1296.2 1681 C1295.8 1671.7 1298.1 1662.3 1299 1653 C1299.9 1643 1300.3 1633 1301.6 1623 C1303.9 1604.3 1306.6 1585.6 1309.8 1567 C1311.8 1555.4 1314.3 1543.9 1317 1532.5 C1319.4 1522.2 1322.3 1511.9 1325.2 1501.7 C1328.6 1489.6 1331.9 1477.3 1336 1465.4 C1340 1453.8 1344.4 1442.2 1349.6 1431 C1358.8 1411.1 1368.5 1391.2 1379 1372 C1383.9 1363 1389.4 1354.2 1396 1346.3 C1414.8 1323.7 1434.4 1301.6 1455 1280.7 C1467.9 1267.7 1482 1255.9 1496.5 1244.7 C1505.5 1237.7 1515.4 1231.7 1525.4 1226.3 C1536 1220.6 1547.1 1215.7 1558.2 1211.2 C1571.1 1205.9 1584.4 1201.4 1597.6 1196.8 C1607.2 1193.5 1616.8 1190.2 1626.5 1187.6 C1632.1 1186.1 1637.8 1185 1643.6 1184.3 C1658.4 1182.4 1673.4 1181.2 1688.3 1179.7"/>
<path d="M1661.7 1210.6 C1674.5 1209.3 1687.2 1207 1700 1206.8 C1708.8 1206.6 1717.7 1207.7 1726.3 1209.4 C1740.4 1212.1 1754.6 1215.6 1768.3 1220 C1776.5 1222.6 1784.7 1225.9 1792 1230.4 C1800.5 1235.5 1808 1242.4 1815.6 1248.8 C1819.3 1252 1822.7 1255.6 1826 1259.3 C1834.5 1268.8 1843 1278.3 1851 1288.2 C1857.9 1296.7 1865.3 1305.1 1870.8 1314.5 C1877.6 1326.1 1882.5 1338.9 1887.9 1351.3 C1891.3 1359.1 1894.1 1367.1 1897 1375 C1898.1 1378.1 1899 1381.2 1900 1384.3 C1901.8 1390 1903.7 1395.6 1905.3 1401.3 C1907.8 1410.2 1910.1 1419 1912.2 1428 C1914.2 1436.8 1916 1445.7 1917.6 1454.6 C1919.1 1463 1920.1 1471.5 1921.3 1480 C1921.6 1481.8 1921.8 1483.5 1922 1485.3"/>
<path d="M1921.9 1526.5 L1921.2 1557.5"/>
<path d="M1325.2 1717.4 C1325.2 1710.1 1324.8 1702.8 1325.2 1695.6 C1326 1681.7 1327.7 1667.9 1328.8 1654 C1329.2 1648.5 1329 1643 1329.7 1637.6 C1332.6 1614.3 1336.4 1591.1 1339.7 1567.8 C1340.3 1563.3 1340.6 1558.7 1341.5 1554.3 C1345.4 1534.9 1349.1 1515.4 1354.2 1496.3 C1357.5 1483.9 1362.6 1472.1 1366.9 1460 C1371.7 1446.6 1375.5 1432.8 1381.5 1420 C1386.8 1408.8 1394 1398.5 1400.7 1388 C1403.6 1383.5 1407 1379.2 1410.3 1375 C1428.3 1352 1444.4 1327.1 1464.7 1306.3 C1482.8 1287.8 1504.8 1273 1525.4 1257.2 C1529 1254.5 1533.2 1252.7 1537.2 1250.6 C1548.5 1244.8 1559.6 1238.2 1571.4 1233.6 C1588 1227.1 1605.3 1221.6 1622.6 1217.1 C1635 1213.9 1647.9 1211.4 1660.7 1210.6 C1673.7 1209.7 1686.9 1211 1700 1212 C1707.9 1212.6 1715.9 1213.4 1723.6 1215.3 C1731.3 1217.2 1738.6 1220.5 1746 1223.2 C1754.8 1226.4 1764.3 1228.3 1772.3 1233 C1781.8 1238.6 1790.1 1246.7 1798.5 1254 C1800.2 1255.4 1801 1257.6 1802.5 1259.3 C1809.8 1267.7 1817.8 1275.6 1824.8 1284.3 C1831.8 1293.1 1838.8 1302.2 1844.5 1311.9 C1851.1 1323.2 1857 1335.2 1861.6 1347.4 C1865.5 1357.9 1867.2 1369.2 1870.1 1380 C1872 1387.1 1874 1394.2 1876 1401.3 C1877.7 1407.5 1879.9 1413.7 1881.3 1420 C1882.9 1427.4 1883.7 1434.9 1885 1442.4 C1885.5 1445.4 1886.2 1448.4 1886.7 1451.4 C1888.3 1460.9 1890.5 1470.4 1891.4 1480 C1892.8 1494.3 1893.1 1508.7 1893.7 1523 C1894.1 1532.2 1894.2 1541.4 1894.5 1550.6"/>
<path d="M1894.5 1550.6 C1895.3 1553.4 1895.2 1557.1 1897 1559 C1898.9 1561.1 1902.7 1562.2 1905.7 1562.6 C1909.6 1563.1 1913.8 1562.7 1917.7 1561.8 C1929.2 1559.2 1940.7 1555.9 1952 1552.3 C1959.6 1549.9 1966.9 1546.6 1974.4 1543.7"/>
<path d="M1974.4 1505.9 C1977.3 1507.6 1981.2 1508.5 1983 1511.1 C1985.3 1514.2 1985.9 1519 1986.5 1523.1 C1987.1 1528.2 1988.6 1534.8 1986.5 1538.6 C1984.6 1541.7 1978.4 1542 1974.4 1543.7"/>
<path d="M1368.7 1367 L1369.5 1350 L1378 1349.5"/>
<path d="M1299 1551 L1300 1531 L1307 1529"/>
<path d="M1285.5 1640 L1286.2 1623 L1290 1621"/>
<path d="M1678.1 1261.2 C1682.8 1269.6 1690.3 1277.6 1692 1286.4 C1693.3 1292.8 1689.1 1300.1 1687 1306.6 C1685.3 1311.8 1681.6 1316.6 1680.6 1321.8 C1679.9 1325.8 1679.9 1330.9 1681.9 1334.4 C1686.2 1341.9 1693.7 1347.9 1699.6 1354.6"/>
<path d="M1688.2 1233.4 L1685.7 1248.5"/>
<path d="M1702.1 1237.2 C1701.7 1258.6 1701.3 1280.1 1700.9 1301.6 C1700.5 1319.3 1700 1337 1699.6 1354.6"/>
<path d="M1732.4 1261.2 C1731.6 1278.9 1731.9 1296.7 1729.9 1314.2 C1728.5 1326.2 1724.9 1337.8 1722.3 1349.6"/>
<path d="M1760.2 1271.3 C1760.7 1281.4 1761.9 1291.5 1761.5 1301.6 C1761 1313.4 1759 1325.2 1757.7 1337"/>
<path d="M1776.7 1289 C1775.4 1297.4 1775 1306.1 1772.9 1314.2 C1771.2 1320.4 1768.8 1326.8 1765.3 1331.9 C1762.9 1335.2 1758.5 1337 1755.2 1339.5"/>
<path d="M1699.6 1354.6 L1755.2 1339.5"/>
<path d="M1687 1342 L1687 1378.7 L1692 1383.7 L1707.2 1381.2 L1709.7 1373.6 L1729.9 1372.3 L1747.6 1369.8 L1748.9 1344.5"/>
<path d="M1695.8 1354.6 L1695.8 1382.4"/>
<path d="M1708.4 1354.6 L1708.4 1381.2"/>
<path d="M1729.9 1349.6 L1729.9 1372.3"/>
<path d="M1733 1486.2 L1892.8 1445.4" stroke-dasharray="40 10 12 10"/>
<path d="M1812.6 1470.7 L1812.6 1531.7 L1899.7 1509.3" stroke-dasharray="40 10 12 10"/>
<ellipse cx="905.4" cy="570.1" rx="5.5" ry="3.5"/>
<ellipse cx="1048.7" cy="452.6" rx="4" ry="5.5" transform="rotate(-25 1048.7 452.6)"/>
<ellipse cx="1059.0" cy="526.3" rx="4" ry="5.5" transform="rotate(-25 1059.0 526.3)"/>
<use href="#grom" transform="translate(1025.5 700.5)"/>
<ellipse cx="247.8" cy="860" rx="4.5" ry="2.2"/>
<ellipse cx="52.5" cy="946.4" rx="11" ry="3"/>
<ellipse cx="218" cy="958.8" rx="11" ry="3"/>
<ellipse cx="348.2" cy="957.4" rx="11" ry="3"/>
<ellipse cx="1638.6" cy="654.8" rx="4.5" ry="3.2"/>
<ellipse cx="1374.4" cy="1029.8" rx="7" ry="3.6" transform="rotate(-15 1374.4 1029.8)"/>
<ellipse cx="1252.7" cy="1122.6" rx="6.5" ry="3.8" transform="rotate(-45 1252.7 1122.6)"/>
<ellipse cx="1499" cy="998.2" rx="7.5" ry="3.5"/>
<ellipse cx="1594" cy="1022" rx="7.5" ry="3.8" transform="rotate(25 1594 1022)"/>
<ellipse cx="1662.8" cy="1093.8" rx="7.5" ry="3.8" transform="rotate(35 1662.8 1093.8)"/>
<defs>
<g id="clip">
<path d="M-5 -7.5 L-5 -15.3 L-2.7 -18.2 L2.4 -18.2 L4.8 -15.3 L4.8 -7.5"/>
<path d="M-9.4 -7.3 L7.5 -7.3 L14.3 -0.3 L-14.8 -1.6 Z" fill="#fff"/>
<path d="M-7 -1 L-7 7.4 M6 -0.3 L6 7.6"/>
<path d="M-14.2 7.4 L13.3 7.7 L9.1 12.8 L-8.5 12.8 Z" fill="#fff"/>
</g>
<g id="grom">
<ellipse cx="0" cy="0" rx="12.8" ry="11.7" fill="#000"/>
<ellipse cx="0" cy="-2.6" rx="11" ry="8.2" fill="#fff" stroke="none"/>
<path d="M-4.4 -1 L-4.4 -20 Q-4.4 -21 -3.4 -21 L3.4 -21 Q4.4 -21 4.4 -20 L4.4 -2 Q4.4 1 1.5 1 L-1.5 1 Q-4.4 1 -4.4 -1 Z" fill="#fff"/>
<path d="M-2.5 -18.5 L2.5 -18.5"/>
</g>
</defs>
<use href="#clip" transform="translate(647 636)"/>
<use href="#grom" transform="translate(762.6 713.6)"/>
<use href="#grom" transform="translate(660.4 842) rotate(-38)"/>
<use href="#grom" transform="translate(529.5 1055)"/>
<use href="#clip" transform="translate(889.3 1031.4) rotate(-42)"/>
<ellipse cx="852.6" cy="671.4" rx="18" ry="15.8"/>
<path d="M836.5 677 C836 664 846 659.5 853 659.5 C862 659.5 868 666 868.5 673"/>
<path d="M843.8 689 L854.9 689.6 L861.7 681.7 L863.1 673.7 L858.7 665.5 L846.1 664 L838.8 672.6 L839.1 678.7 Z" fill="#fff"/>
<path d="M846.1 664 L846.5 669.3 L857.3 670 L858.7 665.5 M846.5 669.3 L839 677"/>
<ellipse cx="839.8" cy="792.5" rx="11" ry="12.8" transform="rotate(20 839.8 792.5)"/>
<ellipse cx="926.6" cy="804.8" rx="10.5" ry="12.8" transform="rotate(30 926.6 804.8)"/>
<circle cx="1167.5" cy="242.5" r="20.5" fill="#fff"/>
<circle cx="1079.4" cy="758.6" r="20.5" fill="#fff"/>
<circle cx="1938.3" cy="1136.3" r="20.5" fill="#fff"/>
<g font-family="Liberation Sans, sans-serif" font-size="29.5" fill="#000" stroke="none" text-anchor="middle"><text x="1166.5" y="253">1</text><text x="1079.2" y="770">2</text><text x="1939" y="1147.8">3</text></g>
<ellipse cx="1239" cy="1149.6" rx="5" ry="4" transform="rotate(-30 1239 1149.6)"/>
<ellipse cx="1131.3" cy="1356" rx="4.3" ry="6.2" transform="rotate(-15 1131.3 1356)"/>
<ellipse cx="1108" cy="1453.5" rx="4.3" ry="6.2" transform="rotate(-15 1108 1453.5)"/>
<path d="M1341.6 1424.1 L1323.7 1461.5 L1359.5 1461.5 Z" fill="#fff" stroke="#fff" stroke-width="1.5"/>
<path d="M1347.2 1435.8 L1341.6 1424.1 L1336.0 1435.8 M1348.6 1438.7 L1354.0 1449.9 M1334.6 1438.7 L1329.2 1449.9 M1355.4 1452.8 L1359.5 1461.5 L1334.8 1461.5 M1331.6 1461.5 L1323.7 1461.5 L1327.8 1452.8" stroke-width="3.8" stroke-linejoin="miter" stroke-miterlimit="10" stroke-linecap="butt"/>
<path d="M1388.0 1343.3 L1370.1 1380.7 L1405.9 1380.7 Z" fill="#fff" stroke="#fff" stroke-width="1.5"/>
<path d="M1393.6 1355.0 L1388.0 1343.3 L1382.4 1355.0 M1395.0 1357.9 L1400.4 1369.1 M1381.0 1357.9 L1375.6 1369.1 M1401.8 1372.0 L1405.9 1380.7 L1381.2 1380.7 M1378.0 1380.7 L1370.1 1380.7 L1374.2 1372.0" stroke-width="3.8" stroke-linejoin="miter" stroke-miterlimit="10" stroke-linecap="butt"/>
<path d="M1442.3 1269.8 L1424.4 1307.1 L1460.2 1307.1 Z" fill="#fff" stroke="#fff" stroke-width="1.5"/>
<path d="M1447.9 1281.4 L1442.3 1269.8 L1436.7 1281.4 M1449.3 1284.3 L1454.7 1295.6 M1435.3 1284.3 L1429.9 1295.6 M1456.1 1298.5 L1460.2 1307.1 L1435.5 1307.1 M1432.3 1307.1 L1424.4 1307.1 L1428.5 1298.5" stroke-width="3.8" stroke-linejoin="miter" stroke-miterlimit="10" stroke-linecap="butt"/>
<path d="M1515.9 1214.6 L1498.0 1253.6 L1533.8 1253.6 Z" fill="#fff" stroke="#fff" stroke-width="1.5"/>
<path d="M1521.5 1226.8 L1515.9 1214.6 L1510.3 1226.8 M1522.9 1229.8 L1528.3 1241.5 M1508.9 1229.8 L1503.5 1241.5 M1529.7 1244.6 L1533.8 1253.6 L1509.1 1253.6 M1505.9 1253.6 L1498.0 1253.6 L1502.1 1244.6" stroke-width="3.8" stroke-linejoin="miter" stroke-miterlimit="10" stroke-linecap="butt"/>
<path d="M1638.5 1174.1 L1620.6 1211.9 L1656.4 1211.9 Z" fill="#fff" stroke="#fff" stroke-width="1.5"/>
<path d="M1644.1 1185.9 L1638.5 1174.1 L1632.9 1185.9 M1645.5 1188.8 L1650.9 1200.2 M1631.5 1188.8 L1626.1 1200.2 M1652.3 1203.1 L1656.4 1211.9 L1631.7 1211.9 M1628.5 1211.9 L1620.6 1211.9 L1624.7 1203.1" stroke-width="3.8" stroke-linejoin="miter" stroke-miterlimit="10" stroke-linecap="butt"/>
<path d="M1745.3 1180.5 L1727.4 1219.3 L1763.2 1219.3 Z" fill="#fff" stroke="#fff" stroke-width="1.5"/>
<path d="M1750.9 1192.6 L1745.3 1180.5 L1739.7 1192.6 M1752.3 1195.6 L1757.7 1207.3 M1738.3 1195.6 L1732.9 1207.3 M1759.1 1210.3 L1763.2 1219.3 L1738.5 1219.3 M1735.3 1219.3 L1727.4 1219.3 L1731.5 1210.3" stroke-width="3.8" stroke-linejoin="miter" stroke-miterlimit="10" stroke-linecap="butt"/>
<path d="M1821.5 1217.3 L1803.6 1255.4 L1839.4 1255.4 Z" fill="#fff" stroke="#fff" stroke-width="1.5"/>
<path d="M1827.1 1229.2 L1821.5 1217.3 L1815.9 1229.2 M1828.5 1232.1 L1833.9 1243.6 M1814.5 1232.1 L1809.1 1243.6 M1835.3 1246.6 L1839.4 1255.4 L1814.7 1255.4 M1811.5 1255.4 L1803.6 1255.4 L1807.7 1246.6" stroke-width="3.8" stroke-linejoin="miter" stroke-miterlimit="10" stroke-linecap="butt"/>
<path d="M1897.0 1342.1 L1879.1 1380.2 L1914.9 1380.2 Z" fill="#fff" stroke="#fff" stroke-width="1.5"/>
<path d="M1902.6 1354.0 L1897.0 1342.1 L1891.4 1354.0 M1904.0 1356.9 L1909.4 1368.4 M1890.0 1356.9 L1884.6 1368.4 M1910.8 1371.4 L1914.9 1380.2 L1890.2 1380.2 M1887.0 1380.2 L1879.1 1380.2 L1883.2 1371.4" stroke-width="3.8" stroke-linejoin="miter" stroke-miterlimit="10" stroke-linecap="butt"/>
<path d="M1924.6 1487.9 L1906.7 1526.5 L1942.5 1526.5 Z" fill="#fff" stroke="#fff" stroke-width="1.5"/>
<path d="M1930.2 1499.9 L1924.6 1487.9 L1919.0 1499.9 M1931.6 1502.9 L1937.0 1514.6 M1917.6 1502.9 L1912.2 1514.6 M1938.4 1517.6 L1942.5 1526.5 L1917.8 1526.5 M1914.6 1526.5 L1906.7 1526.5 L1910.8 1517.6" stroke-width="3.8" stroke-linejoin="miter" stroke-miterlimit="10" stroke-linecap="butt"/>
<path d="M1966.7 1503.4 L1948.8 1542.0 L1984.6 1542.0 Z" fill="#fff" stroke="#fff" stroke-width="1.5"/>
<path d="M1972.3 1515.4 L1966.7 1503.4 L1961.1 1515.4 M1973.7 1518.4 L1979.1 1530.1 M1959.7 1518.4 L1954.3 1530.1 M1980.5 1533.1 L1984.6 1542.0 L1959.9 1542.0 M1956.7 1542.0 L1948.8 1542.0 L1952.9 1533.1" stroke-width="3.8" stroke-linejoin="miter" stroke-miterlimit="10" stroke-linecap="butt"/>
<path d="M1324.3 1525.1 L1306.4 1563.7 L1342.2 1563.7 Z" fill="#fff" stroke="#fff" stroke-width="1.5"/>
<path d="M1329.9 1537.1 L1324.3 1525.1 L1318.7 1537.1 M1331.3 1540.1 L1336.7 1551.8 M1317.3 1540.1 L1311.9 1551.8 M1338.1 1554.8 L1342.2 1563.7 L1317.5 1563.7 M1314.3 1563.7 L1306.4 1563.7 L1310.5 1554.8" stroke-width="3.8" stroke-linejoin="miter" stroke-miterlimit="10" stroke-linecap="butt"/>
<path d="M1312.5 1611.2 L1294.6 1649.4 L1330.4 1649.4 Z" fill="#fff" stroke="#fff" stroke-width="1.5"/>
<path d="M1318.1 1623.1 L1312.5 1611.2 L1306.9 1623.1 M1319.5 1626.1 L1324.9 1637.6 M1305.5 1626.1 L1300.1 1637.6 M1326.3 1640.6 L1330.4 1649.4 L1305.7 1649.4 M1302.5 1649.4 L1294.6 1649.4 L1298.7 1640.6" stroke-width="3.8" stroke-linejoin="miter" stroke-miterlimit="10" stroke-linecap="butt"/>
<path d="M1312.5 1700.0 L1294.6 1738.2 L1330.4 1738.2 Z" fill="#fff" stroke="#fff" stroke-width="1.5"/>
<path d="M1318.1 1711.9 L1312.5 1700.0 L1306.9 1711.9 M1319.5 1714.9 L1324.9 1726.4 M1305.5 1714.9 L1300.1 1726.4 M1326.3 1729.4 L1330.4 1738.2 L1305.7 1738.2 M1302.5 1738.2 L1294.6 1738.2 L1298.7 1729.4" stroke-width="3.8" stroke-linejoin="miter" stroke-miterlimit="10" stroke-linecap="butt"/>
<ellipse cx="1689.5" cy="1262.4" rx="3.8" ry="5.8"/>
<ellipse cx="1688.2" cy="1321.8" rx="3.8" ry="5.8"/>
<ellipse cx="1693.5" cy="1496.5" rx="11.5" ry="15.5" transform="rotate(-10 1693.5 1496.5)" fill="#fff"/>
<ellipse cx="1695.5" cy="1496" rx="9" ry="13" transform="rotate(-10 1695.5 1496)"/>
<path d="M1690 1489 L1694 1494 M1688 1497 L1694 1496 L1696 1504 M1694 1494 L1691 1488" stroke-width="1.8"/>
<path d="M1706.4 1488.7 L1722 1485.3 L1728.7 1487.9 L1723.6 1494 L1706.4 1498.2" fill="#fff"/>
<path d="M1722 1485.3 L1728.7 1487.9 L1723.6 1494 Z" fill="#000"/>
<ellipse cx="1898.8" cy="1445.4" rx="4.8" ry="9" transform="rotate(10 1898.8 1445.4)"/>
<ellipse cx="1904.8" cy="1506.8" rx="4.5" ry="8" transform="rotate(10 1904.8 1506.8)"/>
<path d="M1535.2 1762.6 L1593.5 1778.5 L1596.4 1781 L1594.3 1788 L1531.7 1770 Z" fill="#000" stroke="#000" stroke-width="1.5"/>
<path d="M1587.9 1765.4 L1632.4 1752 L1630.3 1761.9 L1592.8 1771.8 Z" fill="#000" stroke="#000" stroke-width="1.5"/>
<path d="M1535.2 1762.6 L1563.5 1719.8 L1570.6 1734 L1612.6 1720.5 L1632.4 1752 L1587.9 1765.4 L1593.5 1778.5 Z" fill="#fff"/>
</svg>
</body></html>
